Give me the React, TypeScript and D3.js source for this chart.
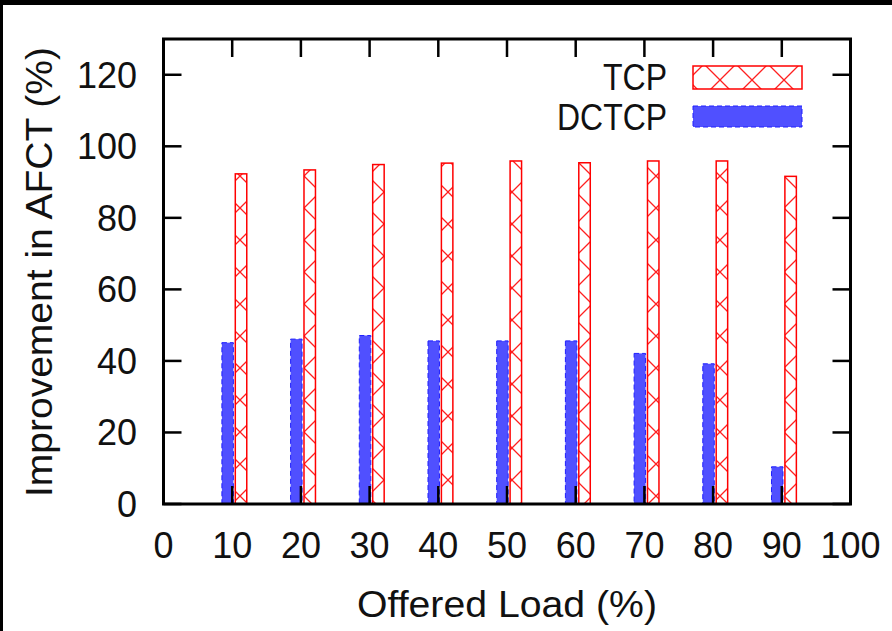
import React, { useEffect, useRef } from 'react'
import * as d3 from 'd3'

// offered load categories (%)
const loads = [10, 20, 30, 40, 50, 60, 70, 80, 90]
// improvement in AFCT (%)
const tcpValues = [92.3, 93.4, 94.9, 95.3, 95.9, 95.4, 95.9, 95.9, 91.6]
const dctcpValues = [45.1, 46.1, 47.1, 45.6, 45.6, 45.6, 42.1, 39.2, 10.4]
const xTickValues = [0, 10, 20, 30, 40, 50, 60, 70, 80, 90, 100]
const yTickValues = [0, 20, 40, 60, 80, 100, 120]
const seriesNames = ['TCP', 'DCTCP']

const W = 892
const H = 631
const FONT = '"Liberation Sans", Arial, Helvetica, sans-serif'

const App = () => {
  const ref = useRef<SVGSVGElement>(null)

  useEffect(() => {
    if (!ref.current) return
    const svg = d3.select(ref.current)
    svg.selectAll('*').remove()

    const x = d3.scaleLinear().domain([0, 100]).range([163.5, 850.5])
    const y = d3.scaleLinear().domain([0, 130]).range([504, 39])
    const tickLen = 18
    const barW = 1.67

    // page background + black scan edges
    svg.append('rect').attr('width', W).attr('height', H).attr('fill', '#fff')
    svg.append('rect').attr('width', W).attr('height', 5).attr('fill', '#000')
    svg.append('rect').attr('width', 3).attr('height', H).attr('fill', '#000')

    const defs = svg.append('defs')
    const pat = defs
      .append('pattern')
      .attr('id', 'xhatch')
      .attr('patternUnits', 'userSpaceOnUse')
      .attr('width', 32)
      .attr('height', 32)
    pat.append('rect').attr('width', 32).attr('height', 32).attr('fill', '#fff')
    pat
      .append('path')
      .attr('d', 'M-4,-4L36,36M36,-4L-4,36')
      .attr('stroke', '#ff2020')
      .attr('stroke-width', 1.3)
      .attr('fill', 'none')

    // bars
    svg
      .selectAll('.dctcp')
      .data(dctcpValues)
      .enter()
      .append('rect')
      .attr('class', 'dctcp')
      .attr('x', (d, i) => x(loads[i] - 1.5))
      .attr('width', x(barW) - x(0))
      .attr('y', (d) => y(d))
      .attr('height', (d) => y(0) - y(d))
      .attr('fill', '#5050ff')
      .attr('stroke', '#2020ff')
      .attr('stroke-width', 1)
      .attr('stroke-dasharray', '5,3')

    svg
      .selectAll('.tcp')
      .data(tcpValues)
      .enter()
      .append('rect')
      .attr('class', 'tcp')
      .attr('x', (d, i) => x(loads[i] + 0.45))
      .attr('width', x(barW) - x(0))
      .attr('y', (d) => y(d))
      .attr('height', (d) => y(0) - y(d))
      .attr('fill', 'url(#xhatch)')
      .attr('stroke', '#ff0000')
      .attr('stroke-width', 1.5)

    // ticks (mirrored, pointing inward)
    const ticks = svg.append('g').attr('stroke', '#000').attr('stroke-width', 2.5)
    xTickValues.forEach((v) => {
      ticks.append('line').attr('x1', x(v)).attr('x2', x(v)).attr('y1', y(0)).attr('y2', y(0) - tickLen)
      ticks.append('line').attr('x1', x(v)).attr('x2', x(v)).attr('y1', y(130)).attr('y2', y(130) + tickLen)
    })
    yTickValues.forEach((v) => {
      ticks.append('line').attr('x1', x(0)).attr('x2', x(0) + tickLen).attr('y1', y(v)).attr('y2', y(v))
      ticks.append('line').attr('x1', x(100)).attr('x2', x(100) - tickLen).attr('y1', y(v)).attr('y2', y(v))
    })

    // frame
    svg
      .append('rect')
      .attr('x', x(0))
      .attr('y', y(130))
      .attr('width', x(100) - x(0))
      .attr('height', y(0) - y(130))
      .attr('fill', 'none')
      .attr('stroke', '#000')
      .attr('stroke-width', 3)

    const txt = svg.append('g').attr('font-family', FONT).attr('font-size', 36).attr('fill', '#111')

    xTickValues.forEach((v) => {
      txt.append('text').attr('x', x(v)).attr('y', 558).attr('text-anchor', 'middle').text(v)
    })
    yTickValues.forEach((v) => {
      txt.append('text').attr('x', 137).attr('y', y(v) + 13).attr('text-anchor', 'end').text(v)
    })

    txt
      .append('text')
      .attr('x', 507)
      .attr('y', 617)
      .attr('text-anchor', 'middle')
      .attr('textLength', 300)
      .attr('lengthAdjust', 'spacingAndGlyphs')
      .text('Offered Load (%)')

    txt
      .append('text')
      .attr('transform', 'translate(52,272) rotate(-90)')
      .attr('text-anchor', 'middle')
      .attr('textLength', 450)
      .attr('lengthAdjust', 'spacingAndGlyphs')
      .text('Improvement in AFCT (%)')

    // legend
    const legY = [66, 106]
    const legW = [64, 110]
    seriesNames.forEach((name, i) => {
      txt
        .append('text')
        .attr('x', 667 - legW[i])
        .attr('y', legY[i] + 24)
        .attr('textLength', legW[i])
        .attr('lengthAdjust', 'spacingAndGlyphs')
        .text(name)
    })
    svg
      .append('rect')
      .attr('x', 693)
      .attr('y', legY[0])
      .attr('width', 109)
      .attr('height', 23)
      .attr('fill', 'url(#xhatch)')
      .attr('stroke', '#ff0000')
      .attr('stroke-width', 1.5)
    svg
      .append('rect')
      .attr('x', 693)
      .attr('y', legY[1])
      .attr('width', 109)
      .attr('height', 21)
      .attr('fill', '#5050ff')
      .attr('stroke', '#2020ff')
      .attr('stroke-width', 1)
      .attr('stroke-dasharray', '5,3')
  }, [])

  return (
    <svg
      ref={ref}
      width={W}
      height={H}
      style={{ position: 'absolute', left: 0, top: 0, display: 'block' }}
    />
  )
}

export default App
